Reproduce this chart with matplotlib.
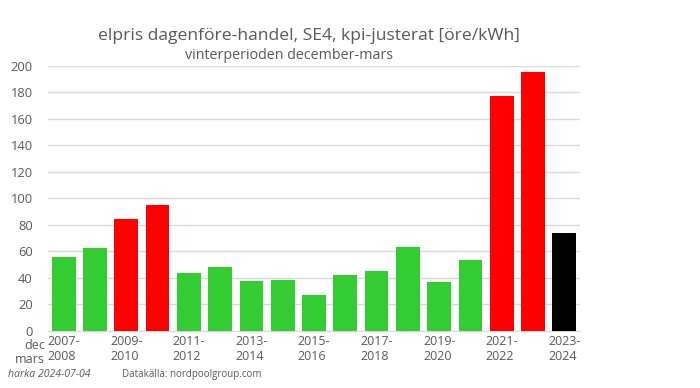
import numpy as np
import matplotlib
matplotlib.use('Agg')
import matplotlib.pyplot as plt

plt.rcParams['font.family'] = ['Open Sans', 'DejaVu Sans']

# vinterperioder dec-mars
seasons = ['2007-2008', '2008-2009', '2009-2010', '2010-2011', '2011-2012',
           '2012-2013', '2013-2014', '2014-2015', '2015-2016', '2016-2017',
           '2017-2018', '2018-2019', '2019-2020', '2020-2021', '2021-2022',
           '2022-2023', '2023-2024']
prices = [56, 62.5, 84.5, 95, 44, 48.5, 38, 38.5, 27, 42, 45.5, 63.5, 37, 53.5, 177.5, 195.5, 74]
colors = ['#33cc33', '#33cc33', '#ff0000', '#ff0000', '#33cc33', '#33cc33', '#33cc33',
          '#33cc33', '#33cc33', '#33cc33', '#33cc33', '#33cc33', '#33cc33', '#33cc33',
          '#ff0000', '#ff0000', '#000000']

grey = '#595959'

fig = plt.figure(figsize=(7, 3.88), dpi=100)
ax = fig.add_axes([0.0686, 0.147, 0.76, 0.683])

x = np.arange(len(seasons))
ax.bar(x, prices, width=0.76, color=colors, zorder=3)

ax.set_xlim(-0.5, len(seasons) - 0.5)
ax.set_ylim(0, 200)
ax.set_yticks(np.arange(0, 201, 20))
ax.tick_params(axis='y', length=0, labelsize=9.3, colors=grey, pad=11)
ax.grid(axis='y', color='#d9d9d9', linewidth=1, zorder=0)

# etiketter varannan säsong
ticks = x[::2]
labels = [s.replace('-', '-\n') for s in seasons[::2]]
ax.set_xticks(ticks)
ax.set_xticklabels(labels, fontsize=9, color=grey, multialignment='left')
ax.tick_params(axis='x', length=0, pad=3)

for side in ['top', 'right', 'left']:
    ax.spines[side].set_visible(False)
ax.spines['bottom'].set_color('#d9d9d9')

fig.text(0.441, 0.908, 'elpris dagenföre-handel, SE4, kpi-justerat [öre/kWh]',
         ha='center', va='center', fontsize=12.6, color=grey)
fig.text(0.413, 0.858, 'vinterperioden december-mars',
         ha='center', va='center', fontsize=10.3, color=grey)

fig.text(0.064, 0.126, 'dec\nmars', ha='right', va='top', fontsize=9,
         color=grey, multialignment='right', linespacing=1.1)

fig.text(0.011, 0.02, 'harka 2024-07-04', ha='left', va='bottom', fontsize=7.6,
         color=grey, style='italic')
fig.text(0.174, 0.02, 'Datakälla: nordpoolgroup.com', ha='left', va='bottom',
         fontsize=7, color=grey)

fig.savefig('out.png', dpi=100)
